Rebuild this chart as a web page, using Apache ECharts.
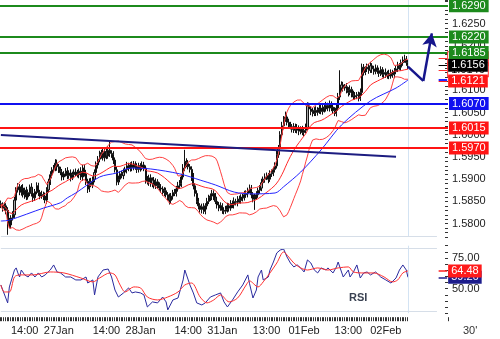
<!DOCTYPE html>
<html><head><meta charset="utf-8">
<script src="https://cdn.jsdelivr.net/npm/echarts/dist/echarts.min.js"></script>
<style>html,body{margin:0;padding:0;background:#fff}#c{width:500px;height:339px}</style>
</head><body><div id="c"></div>
<script>
// prices are stored in pips above BASE (1 pip = 0.0001)
const BASE = 1.5700;
const openFirstPips = 145;
const closePips = [
142,135,140,130,104,97,113,120,153,176,
183,171,180,165,175,160,170,182,168,158,
172,185,170,162,165,162,153,176,194,210,
221,225,236,228,221,215,205,212,218,208,
214,204,210,216,214,210,218,205,225,212,
195,178,195,188,200,215,232,245,255,260,
248,262,252,265,258,255,243,221,194,200,
212,208,216,222,230,224,232,226,234,228,
222,230,226,232,225,198,194,203,190,198,
185,194,186,180,178,170,174,165,160,152,
162,170,168,178,185,190,205,225,240,235,
228,222,205,185,168,150,140,132,138,128,
140,150,158,162,168,160,150,142,135,140,
130,128,132,140,135,145,142,150,148,155,
152,160,158,165,168,175,180,165,155,160,
165,175,180,192,200,205,208,200,212,215,
222,230,255,270,300,320,335,340,328,322,
318,312,318,310,315,308,312,305,310,316,
365,358,352,348,355,350,356,360,352,362,
358,366,360,368,362,354,348,360,385,405,
412,405,408,400,395,402,392,385,388,390,
382,395,452,440,448,452,445,455,448,442,
450,444,438,446,436,440,434,438,432,440,
435,442,448,455,452,462,468,470,462,456];
const upperWick = [
7,6,8,6,7,9,6,8,7,6, 8,6,7,9,6,8,7,6,9,7, 6,8,7,6,9,7,8,6,7,8, 6,7,9,8,6,7,8,6,7,9,
6,8,7,6,8,7,6,9,7,8, 9,6,7,8,6,7,8,7,9,6, 8,7,6,9,23,7,8,6,7,8, 6,7,8,6,9,7,6,8,7,6,
8,7,6,8,7,6,9,7,8,6, 7,8,6,7,9,6,8,7,6,8, 7,6,8,7,9,8,7,9,26,7, 8,6,7,9,6,7,8,6,7,8,
6,8,7,6,8,7,9,6,7,8, 6,7,8,7,6,8,7,9,6,7, 8,6,7,9,7,6,8,7,6,7, 8,6,7,9,6,8,7,6,8,7,
6,8,9,7,8,9,7,12,6,8, 7,6,8,7,9,6,7,8,6,9, 8,7,6,8,7,9,6,7,8,6, 7,8,6,9,7,6,8,7,9,40,
8,7,6,8,7,9,6,7,8,6, 7,9,8,7,6,8,7,9,6,7, 8,6,7,8,6,7,9,6,8,7, 6,8,7,9,6,7,8,10,7,6];
const lowerWick = [
7,8,6,9,29,7,8,6,7,8, 6,7,8,6,9,7,6,8,7,9, 7,6,8,7,6,9,7,8,6,7, 8,6,7,9,7,6,8,7,6,8,
7,9,6,8,7,6,8,7,9,6, 8,9,7,6,8,7,6,8,7,9, 6,8,7,6,8,7,9,6,8,7, 7,6,8,7,9,6,7,8,6,7,
8,7,9,6,7,8,6,9,7,8, 6,7,8,6,9,7,8,6,7,9, 7,8,6,7,6,7,8,6,7,8, 6,7,9,8,7,6,8,7,9,6,
7,8,6,7,9,7,6,8,7,6, 8,7,6,7,8,6,7,8,7,9, 6,7,8,6,7,9,6,8,7,24, 6,7,8,7,6,8,7,9,6,7,
8,7,6,7,6,7,8,6,7,8, 6,7,8,6,7,9,7,6,8,7, 6,7,8,7,6,8,7,9,6,7, 8,6,7,8,9,7,6,7,6,7,
7,8,6,7,9,6,8,7,6,8, 7,6,8,7,6,7,8,6,9,7, 6,7,8,6,7,9,6,8,7,6, 7,8,6,7,6,8,7,6,7,8];
// 50-bar moving average (blue): [bar index, pips]
const maPoints = [[0,106],[5,108],[25,135],[35,147],[39,158],[44,169],[58,205],[68,214],[76,225],[88,223],[105,212],[117,198],[126,187],[137,171],[147,167],[161,169],[166,183],[176,216],[188,266],[200,322],[217,376],[232,405],[239,423]];
// RSI and its average: [bar index, value]
const rsiPoints = [[0,53.0],[1,51.4],[4,38.4],[5,51.4],[8,65.2],[9,66.9],[10,62.8],[11,59.5],[12,65.2],[14,61.2],[16,59.5],[18,62.8],[20,59.5],[22,62.8],[24,59.5],[26,61.2],[29,65.2],[31,69.3],[33,63.6],[35,62.8],[38,59.5],[41,59.5],[44,57.1],[47,57.1],[50,59.5],[51,54.6],[54,57.1],[55,44.9],[57,59.5],[60,65.2],[61,63.6],[63,66.0],[65,59.5],[67,48.9],[69,43.2],[72,46.5],[75,50.6],[77,46.5],[79,47.3],[82,46.5],[84,44.9],[86,35.1],[89,39.2],[92,38.4],[95,43.2],[97,39.2],[98,32.7],[101,40.8],[104,42.4],[107,57.1],[108,65.2],[110,57.1],[111,53.0],[113,46.5],[115,38.4],[118,36.7],[120,38.4],[123,43.2],[126,44.9],[129,46.5],[131,39.2],[133,35.1],[136,40.8],[139,47.3],[142,53.0],[145,61.2],[146,54.0],[147,53.0],[148,42.4],[150,48.9],[151,59.5],[153,65.2],[154,57.1],[157,59.5],[158,65.2],[160,71.7],[162,79.1],[164,81.5],[166,82.3],[168,75.8],[170,70.9],[172,67.7],[174,69.3],[176,66.9],[178,63.6],[180,73.4],[182,70.9],[184,65.2],[186,62.8],[188,66.9],[191,65.2],[192,66.9],[195,62.8],[197,67.7],[198,71.7],[201,59.5],[204,65.2],[205,59.5],[207,63.6],[209,69.3],[211,58.7],[213,62.8],[215,63.6],[217,61.2],[220,63.6],[223,59.5],[226,57.1],[229,54.6],[232,58.7],[234,65.2],[236,69.3],[238,65.2],[239,59.26]];
const rsiMaPoints = [[0,53.0],[2,47.3],[5,47.3],[8,59.5],[11,61.2],[19,61.2],[29,63.6],[37,62.8],[47,58.7],[54,55.5],[58,58.7],[64,62.8],[67,61.2],[70,53.0],[73,47.3],[78,51.4],[82,50.6],[86,43.2],[92,40.8],[98,43.2],[104,47.3],[108,53.0],[112,54.6],[117,43.2],[121,38.4],[125,40.8],[129,44.9],[134,39.2],[139,42.4],[144,53.0],[146,56.3],[151,51.4],[154,55.5],[158,62.8],[162,70.9],[166,79.9],[169,75.8],[172,70.9],[176,66.9],[180,65.2],[186,66.9],[192,65.2],[198,66.9],[204,67.7],[207,63.6],[213,62.8],[219,62.8],[225,59.5],[230,55.5],[233,57.1],[236,62.8],[239,64.48]];
// time axis labels and the bar index they belong to
const tickLabels = ['14:00','27Jan','14:00','28Jan','14:00','31Jan','13:00','01Feb','13:00','02Feb'];
const tickIndex = [14,34,62,82,110,130,156,178,204,226];
// support / resistance levels
const levelValues = [1.6290,1.6220,1.6185,1.6070,1.6015,1.5970];
const levelColors = ['#1c8a1c','#1c8a1c','#1c8a1c','#1010f0','#ff1414','#ff1414'];
// right-hand value tags
const tagUpper = 1.6171, tagMiddle = 1.6146, tagMa = 1.6123, tagPrice = 1.6156, tagLower = 1.6121;
const trendLine = [[0,1.59995],[232,1.59507]];
const arrowPath = [[239,1.6153],[248,1.6121],[253,1.6228]];

const nCats = 263, lastBar = closePips.length - 1;
const cats = Array.from({length:nCats},(_,i)=>String(i));
const toP = p => BASE + p/10000;
const candles = closePips.map((c,i)=>{
  const o = i===0 ? openFirstPips : closePips[i-1];
  return [o, c, Math.min(o,c)-lowerWick[i], Math.max(o,c)+upperWick[i]].map(toP);
});
const closes = closePips.map(toP);
const bUp=[], bMid=[], bLo=[];
for (let i=0;i<closes.length;i++){
  const w = closes.slice(Math.max(0,i-19), i+1);
  const m = w.reduce((a,b)=>a+b,0)/w.length;
  const sd = Math.sqrt(w.reduce((a,b)=>a+(b-m)*(b-m),0)/w.length);
  bUp.push(m+2*sd); bMid.push(m); bLo.push(m-2*sd);
}
const labelAt = {}; tickIndex.forEach((ix,k)=>labelAt[ix]=tickLabels[k]);
const FONT = 'Liberation Sans';
function box(text,bg,fg,border){
  return {show:true, position:'end', distance:1, formatter:text, color:fg, backgroundColor:bg,
    borderColor:border||bg, borderWidth:border?1:0, padding:[1,3,0,3], fontFamily:FONT, fontSize:11, lineHeight:12};
}
function seg(v, color, width, label, a, b){
  return [{coord:[a===undefined?257:a, v], lineStyle:{color:color, width:width, type:'solid'}, label:label||{show:false}},
          {coord:[b===undefined?262:b, v]}];
}
const Y0MIN = 1.5770, Y0MAX = 1.6303;
const chart = echarts.init(document.getElementById('c'), null, {renderer:'canvas'});
const mlBase = {silent:true, symbol:['none','none'], precision:6, animation:false, emphasis:{disabled:true}};
chart.setOption({
  animation:false,
  backgroundColor:'#ffffff',
  grid:[
    {left:0, top:0, width:448, height:237, containLabel:false, outerBoundsMode:'none'},
    {left:0, top:245.7, width:448, height:67.5, containLabel:false, outerBoundsMode:'none'}
  ],
  xAxis:[
    {type:'category', gridIndex:0, data:cats, show:false},
    {type:'category', gridIndex:1, data:cats, offset:4,
      axisLine:{show:false},
      axisTick:{show:true, length:4, interval:(i)=>i<=lastBar, lineStyle:{color:'#333'}},
      axisLabel:{interval:(i)=>labelAt[i]!==undefined, formatter:(v,i)=>labelAt[i]||'', margin:8,
        fontFamily:FONT, fontSize:11, color:'#222'},
      splitLine:{show:false}}
  ],
  yAxis:[
    {type:'value', gridIndex:0, position:'right', min:Y0MIN, max:Y0MAX, interval:0.001,
      axisLine:{show:false}, splitLine:{show:false},
      axisTick:{show:true, inside:true, length:3, lineStyle:{color:'#333'}},
      axisLabel:{margin:4, fontFamily:FONT, fontSize:11, color:'#222',
        formatter:v=>Math.round(v*10000)%50===0 ? v.toFixed(4) : ''}},
    {type:'value', gridIndex:1, position:'right', min:30, max:85, interval:5,
      axisLine:{show:false}, splitLine:{show:false},
      axisTick:{show:true, inside:true, length:3, lineStyle:{color:'#333'}},
      axisLabel:{margin:4, fontFamily:FONT, fontSize:11, color:'#222',
        formatter:v=>(Math.round(v)===50||Math.round(v)===75) ? v.toFixed(2) : ''}}
  ],
  series:[
    {type:'candlestick', xAxisIndex:0, yAxisIndex:0, data:candles, barWidth:1.6, z:2,
      itemStyle:{color:'#a8a8a8', color0:'#3a3a3a', borderColor:'#111', borderColor0:'#111', borderWidth:1},
      markLine:Object.assign({}, mlBase, {data:[
        {xAxis:lastBar, lineStyle:{color:'#d3e3f3', width:1, type:'solid'}, label:{show:false}},
        seg(Y0MIN+0.0001, '#d6dee8', 1, null, 0, 256)
      ]})},
    {type:'line', xAxisIndex:0, yAxisIndex:0, data:bUp, showSymbol:false, z:3, lineStyle:{color:'#ff4040', width:1}},
    {type:'line', xAxisIndex:0, yAxisIndex:0, data:bMid, showSymbol:false, z:3, lineStyle:{color:'#ff2a2a', width:1}},
    {type:'line', xAxisIndex:0, yAxisIndex:0, data:bLo, showSymbol:false, z:3, lineStyle:{color:'#ff4040', width:1}},
    {type:'line', xAxisIndex:0, yAxisIndex:0, data:maPoints.map(p=>[p[0], toP(p[1])]), showSymbol:false, smooth:0.3, z:3,
      lineStyle:{color:'#2424ff', width:1}},
    {type:'line', xAxisIndex:0, yAxisIndex:0, data:[], z:4,
      markLine:Object.assign({}, mlBase, {data:[
        seg(tagUpper, '#ff3030', 1, box(tagUpper.toFixed(4), '#ffffff', '#000000', '#ff3030')),
        seg(tagMiddle, '#ff3030', 1, box(tagMiddle.toFixed(4), '#ffffff', '#000000', '#ff3030')),
        seg(tagMa, '#2424ff', 2, null),
        seg(tagPrice, '#000000', 1, box(tagPrice.toFixed(4), '#000000', '#ffffff')),
        seg(tagLower, '#ff2020', 1, box(tagLower.toFixed(4), '#ff1414', '#ffffff'))
      ]})},
    {type:'line', xAxisIndex:0, yAxisIndex:0, data:trendLine, showSymbol:false, z:5,
      lineStyle:{color:'#1c1c80', width:2},
      markLine:Object.assign({}, mlBase, {data:
        levelValues.map((v,k)=>({yAxis:v, lineStyle:{color:levelColors[k], width:2, type:'solid'},
          label:box(v.toFixed(4), levelColors[k], '#ffffff')})).concat([
        [{coord:arrowPath[0], symbol:'none', lineStyle:{color:'#16168c', width:2.5, type:'solid'}, label:{show:false}},
         {coord:arrowPath[1], symbol:'none'}],
        [{coord:arrowPath[1], symbol:'none', lineStyle:{color:'#16168c', width:2.5, type:'solid'}, label:{show:false}},
         {coord:arrowPath[2], symbol:'arrow', symbolSize:[11,13]}]
      ])})},
    {type:'line', xAxisIndex:1, yAxisIndex:1, data:rsiPoints, showSymbol:false, z:3,
      lineStyle:{color:'#2a2a9e', width:1},
      markLine:Object.assign({}, mlBase, {data:[
        {xAxis:lastBar, lineStyle:{color:'#d3e3f3', width:1, type:'solid'}, label:{show:false}},
        seg(82.6, '#d6dee8', 1, null, 0, 256),
        seg(31.3, '#d6dee8', 1, null, 0, 256),
        seg(rsiPoints[rsiPoints.length-1][1], '#1c1c8c', 1.5, box(rsiPoints[rsiPoints.length-1][1].toFixed(2), '#1c1c8c', '#ffffff'))
      ]})},
    {type:'line', xAxisIndex:1, yAxisIndex:1, data:rsiMaPoints, showSymbol:false, smooth:0.3, z:4,
      lineStyle:{color:'#ff3030', width:1},
      markLine:Object.assign({}, mlBase, {data:[
        seg(rsiMaPoints[rsiMaPoints.length-1][1], '#ff2020', 1.5, box(rsiMaPoints[rsiMaPoints.length-1][1].toFixed(2), '#ff1a1a', '#ffffff'))
      ]})}
  ],
  graphic:[
    {type:'text', left:349, top:292, style:{text:'RSI', fill:'#3a4252', font:'bold 11px "Liberation Sans"'}},
    {type:'text', left:463, top:325, style:{text:"30'", fill:'#333', font:'11px "Liberation Sans"'}}
  ]
});
</script></body></html>
